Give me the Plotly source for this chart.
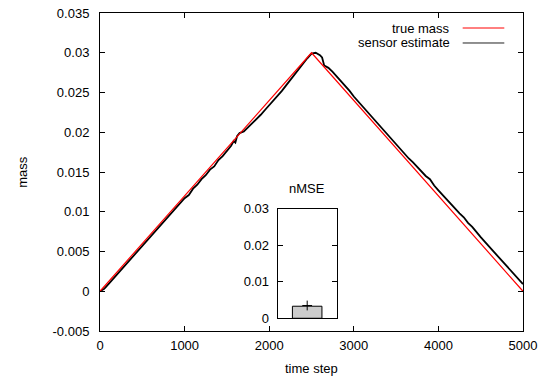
import plotly.graph_objects as go

# ---- data ----
true_t = [0, 2500, 5000]
true_mass = [0.0, 0.030, 0.0]

sensor_t = [0, 50, 100, 150, 200, 250, 300, 350, 400, 450, 500, 550, 600, 650, 700, 750,
            800, 850, 900, 950, 1000, 1050, 1100, 1150, 1200, 1250, 1300, 1350, 1400, 1450,
            1500, 1550, 1580, 1600, 1620, 1650, 1700, 1750, 1800, 1850, 1900, 1950, 2000,
            2050, 2100, 2150, 2200, 2250, 2300, 2350, 2400, 2450, 2500, 2550, 2600, 2625,
            2650, 2700, 2750, 2800, 2850, 2900, 2950, 3000, 3050, 3100, 3150, 3200, 3250,
            3300, 3350, 3400, 3450, 3500, 3550, 3600, 3650, 3700, 3750, 3800, 3850, 3900,
            3950, 4000, 4050, 4100, 4150, 4200, 4250, 4300, 4350, 4400, 4450, 4500, 4550,
            4600, 4650, 4700, 4750, 4800, 4850, 4900, 4950, 5000]
sensor_mass = [0.0, 0.0003, 0.0009, 0.0015, 0.0020, 0.0026, 0.0032, 0.0038, 0.0044, 0.0050,
               0.0056, 0.0062, 0.0068, 0.0075, 0.0080, 0.0086, 0.0093, 0.0098, 0.0105, 0.0110,
               0.0117, 0.0121, 0.0129, 0.0134, 0.0141, 0.0146, 0.0153, 0.0157, 0.0165, 0.0170,
               0.0177, 0.0183, 0.0189, 0.0187, 0.0195, 0.0199, 0.0201, 0.0206, 0.0212, 0.0217,
               0.0222, 0.0228, 0.0234, 0.0239, 0.0246, 0.0252, 0.0259, 0.0266, 0.0273, 0.0279,
               0.0286, 0.0293, 0.0299, 0.0300, 0.0297, 0.0294, 0.0284, 0.0281, 0.0276, 0.0270,
               0.0265, 0.0258, 0.0252, 0.0245, 0.0239, 0.0233, 0.0227, 0.0221, 0.0214, 0.0208,
               0.0202, 0.0196, 0.0190, 0.0184, 0.0178, 0.0173, 0.0167, 0.0162, 0.0156, 0.0150,
               0.0145, 0.0141, 0.0133, 0.0127, 0.0121, 0.0115, 0.0110, 0.0104, 0.0098, 0.0093,
               0.0086, 0.0081, 0.0074, 0.0068, 0.0062, 0.0056, 0.0050, 0.0044, 0.0039, 0.0033,
               0.0026, 0.0020, 0.0014, 0.0009]

nmse_cat = [0]
nmse_val = [0.0033]
nmse_err = [0.0035]

y_ticks = [-0.005, 0, 0.005, 0.01, 0.015, 0.02, 0.025, 0.03, 0.035]
y_tick_labels = ["-0.005", "0", "0.005", "0.01", "0.015", "0.02", "0.025", "0.03", "0.035"]
x_ticks = [0, 1000, 2000, 3000, 4000, 5000]
x_tick_labels = ["0", "1000", "2000", "3000", "4000", "5000"]
inset_ticks = [0, 0.01, 0.02, 0.03]
inset_tick_labels = ["0", "0.01", "0.02", "0.03"]

FONT = "Liberation Sans, Arial, sans-serif"
FS = 13

fig = go.Figure()
fig.add_trace(go.Scatter(x=sensor_t, y=sensor_mass, mode="lines",
                         line=dict(color="black", width=1.8), showlegend=False))
fig.add_trace(go.Scatter(x=true_t, y=true_mass, mode="lines",
                         line=dict(color="#ff0000", width=1.2), showlegend=False))

fig.add_trace(go.Bar(x=nmse_cat, y=nmse_val, width=1.0, xaxis="x2", yaxis="y2",
                     marker=dict(color="#cccccc", line=dict(color="black", width=1)),
                     showlegend=False))
fig.add_trace(go.Scatter(x=nmse_cat, y=nmse_err, mode="markers", xaxis="x2", yaxis="y2",
                         marker=dict(symbol="cross-thin", size=7,
                                     line=dict(color="black", width=1)),
                         showlegend=False))

axis_common = dict(showline=True, linecolor="black", linewidth=1, mirror="ticks",
                   ticks="inside", ticklen=5, tickcolor="black", showgrid=False,
                   zeroline=False, automargin=False,
                   tickfont=dict(family=FONT, size=FS, color="black"))

fig.update_layout(
    width=547, height=378,
    margin=dict(l=100, r=24, t=13, b=47),
    plot_bgcolor="white", paper_bgcolor="white",
    font=dict(family=FONT, size=FS, color="black"),
    xaxis=dict(range=[0, 5000], tickvals=x_ticks, ticktext=x_tick_labels,
               ticklabelstandoff=2, **axis_common),
    yaxis=dict(range=[-0.005, 0.035], tickvals=y_ticks, ticktext=y_tick_labels,
               ticklabelstandoff=7, **axis_common),
    xaxis2=dict(domain=[0.420, 0.5596], anchor="y2", range=[-1, 1], showline=True,
                linecolor="black", mirror=True, showticklabels=False, ticks="",
                showgrid=False, zeroline=False, automargin=False),
    yaxis2=dict(domain=[0.040, 0.3846], anchor="x2", range=[0, 0.03],
                tickvals=inset_ticks, ticktext=inset_tick_labels,
                ticklabelstandoff=5, **axis_common),
    showlegend=False,
)

annotations = [
    dict(text="mass", x=-0.185, y=0.5, xref="paper", yref="paper", textangle=-90,
         xanchor="center", yanchor="middle", showarrow=False, font=dict(size=FS)),
    dict(text="time step", x=0.5, y=-0.119, xref="paper", yref="paper",
         xanchor="center", yanchor="middle", showarrow=False, font=dict(size=FS)),
    dict(text="nMSE", x=0.49, y=0.448, xref="paper", yref="paper",
         xanchor="center", yanchor="middle", showarrow=False, font=dict(size=FS)),
    dict(text="true mass", x=0.8314, y=0.9528, xref="paper", yref="paper",
         xanchor="right", yanchor="middle", showarrow=False, font=dict(size=FS)),
    dict(text="sensor estimate", x=0.8314, y=0.9057, xref="paper", yref="paper",
         xanchor="right", yanchor="middle", showarrow=False, font=dict(size=FS)),
]
fig.update_layout(annotations=annotations)
fig.update_layout(shapes=[
    dict(type="line", xref="paper", yref="paper", x0=0.8574, x1=0.9558, y0=0.9528, y1=0.9528,
         line=dict(color="#ff0000", width=1)),
    dict(type="line", xref="paper", yref="paper", x0=0.8574, x1=0.9558, y0=0.9057, y1=0.9057,
         line=dict(color="#222222", width=1)),
    dict(type="rect", xref="paper", yref="paper", x0=0.420, x1=0.5596, y0=0.040, y1=0.3846,
         line=dict(width=0), fillcolor="white", layer="below"),
])

fig.write_html("out.html", config={"displayModeBar": False},
               post_script="document.body.style.margin='0';")
